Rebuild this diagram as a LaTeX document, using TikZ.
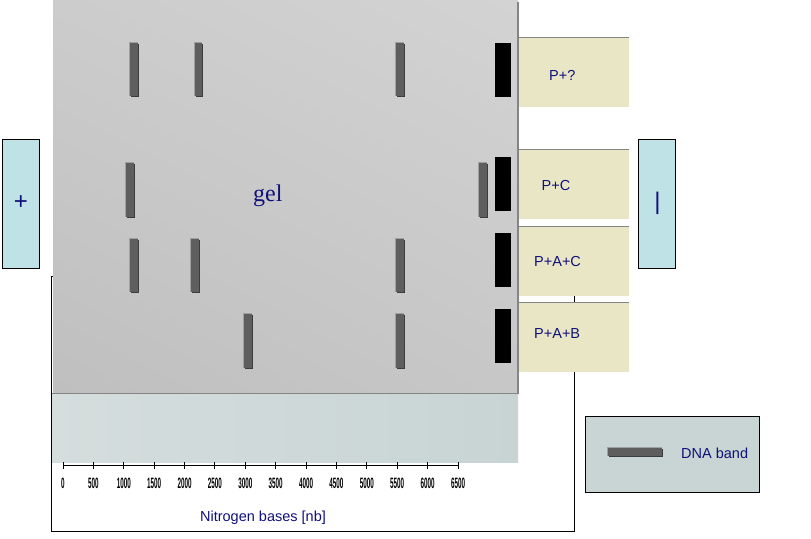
\documentclass[tikz,border=0pt]{standalone}
\usepackage{fontspec}
\usetikzlibrary{shadings}
\setmainfont{Liberation Sans}
\newfontfamily\gelserif{Liberation Serif}
\definecolor{gelUL}{HTML}{CCCCCC}
\definecolor{gelUR}{HTML}{D3D3D3}
\definecolor{gelLL}{HTML}{BFBFBF}
\definecolor{gelLR}{HTML}{C7C7C7}
\definecolor{stripL}{HTML}{D5DDDD}
\definecolor{stripR}{HTML}{C8D4D4}
\definecolor{beige}{HTML}{E9E6C6}
\definecolor{poleblue}{HTML}{BEE2E5}
\definecolor{navy}{HTML}{10107A}
\definecolor{legendfill}{HTML}{C9D5D5}
\definecolor{bandmainc}{HTML}{5E5E5E}
\definecolor{bandhic}{HTML}{A0A0A0}
\definecolor{bandshc}{HTML}{3C3C3C}
\definecolor{edgegray}{HTML}{858585}
\newcommand\dnaband[4]{%
  \fill[bandhi] (#1-1,#2-1) rectangle (#3,#4);
  \fill[bandsh] (#1+1,#2+1) rectangle (#3+1,#4+1);
  \fill[bandmain] (#1,#2) rectangle (#3,#4);}
\begin{document}
\begin{tikzpicture}[x=1pt,y=-1pt,
  bandhi/.style={fill=bandhic},
  bandsh/.style={fill=bandshc},
  bandmain/.style={fill=bandmainc},
  wellbox/.style={fill=black},
  labbox/.style={fill=beige},
  labtop/.style={draw=edgegray,line width=1pt},
  polebox/.style={draw=black,line width=1pt,fill=poleblue},
  labtext/.style={text=navy,font=\fontsize{14.5}{16}\selectfont,inner sep=0pt,anchor=base west},
  poletext/.style={text=navy,font=\fontsize{24}{26}\selectfont,inner sep=0pt},
  ticklab/.style={font=\bfseries\fontsize{15}{15}\selectfont,inner sep=0pt,anchor=base},
  axisline/.style={draw=black,line width=1pt}]
\useasboundingbox (0,0) rectangle (811,538);
% chart frame
\draw[black,line width=1pt] (51.5,276) rectangle (574.5,531);
% gel
\shade[upper left=gelUL,upper right=gelUR,lower left=gelLL,lower right=gelLR] (53,0) rectangle (518,393);
\draw[edgegray,line width=2pt] (518,2) -- (518,393);
% strip below gel
\shade[left color=stripL,right color=stripR] (52,393) rectangle (518,462);
\draw[edgegray,line width=1pt] (52,393.5) -- (519,393.5);
% gel text
\node[text=navy,font=\gelserif\fontsize{24}{26}\selectfont,inner sep=0pt,anchor=base west] (gel) at (253,201) {gel};
% label boxes
\fill[labbox] (519,37) rectangle (629,107);
\draw[labtop] (519,37.5) -- (629,37.5);
\fill[labbox] (519,149) rectangle (629,219);
\draw[labtop] (519,149.5) -- (629,149.5);
\fill[labbox] (519,226) rectangle (629,296);
\draw[labtop] (519,226.5) -- (629,226.5);
\fill[labbox] (519,302) rectangle (629,372);
\draw[labtop] (519,302.5) -- (629,302.5);
\node[labtext] (l1) at (549,80) {P+?};
\node[labtext] (l2) at (541.5,190) {P+C};
\node[labtext] (l3) at (534,266) {P+A+C};
\node[labtext] (l4) at (534,338) {P+A+B};
% wells
\fill[wellbox] (495,43) rectangle (511,97);
\fill[wellbox] (495,157) rectangle (511,211);
\fill[wellbox] (495,233) rectangle (511,287);
\fill[wellbox] (495,309) rectangle (511,363);
% bands row 1
\dnaband{130}{43}{138}{96}
\dnaband{195}{43}{202}{96}
\dnaband{396}{43}{404}{96}
% row 2
\dnaband{126}{163}{134}{217}
\dnaband{479}{163}{487}{217}
% row 3
\dnaband{130}{239}{138}{292}
\dnaband{191}{239}{199}{292}
\dnaband{396}{239}{404}{292}
% row 4
\dnaband{244}{314}{252}{368}
\dnaband{396}{314}{404}{368}
% poles
\draw[polebox] (2.5,139.5) rectangle (39.5,268.5);
\node[poletext] (plus) at (21,203) {+};
\draw[polebox] (638.5,139.5) rectangle (675.5,268.5);
\node[poletext] (minus) at (657.5,203) {|};
% axis
\draw[axisline] (63,465) -- (458,465);
\foreach \i in {0,...,13}{
  \pgfmathsetmacro\xx{63+30.385*\i}
  \pgfmathtruncatemacro\val{500*\i}
  \draw[axisline] (\xx,462) -- (\xx,468.5);
  \node[ticklab] at (\xx,488) {\scalebox{0.42}[1]{\val}};
}
\node[text=navy,font=\fontsize{14.5}{16}\selectfont,inner sep=0pt,anchor=base] (xlabel) at (263,521) {Nitrogen bases [nb]};
% legend
\draw[black,line width=1pt,fill=legendfill] (585.5,416.5) rectangle (759.5,492.5);
\fill[bandhi] (607,447) rectangle (662,456);
\fill[bandsh] (609,449) rectangle (662.5,457);
\fill[bandmain] (608,448) rectangle (661.5,456);
\node[labtext] (leg) at (681,458.5) {DNA band};
\end{tikzpicture}
\end{document}
